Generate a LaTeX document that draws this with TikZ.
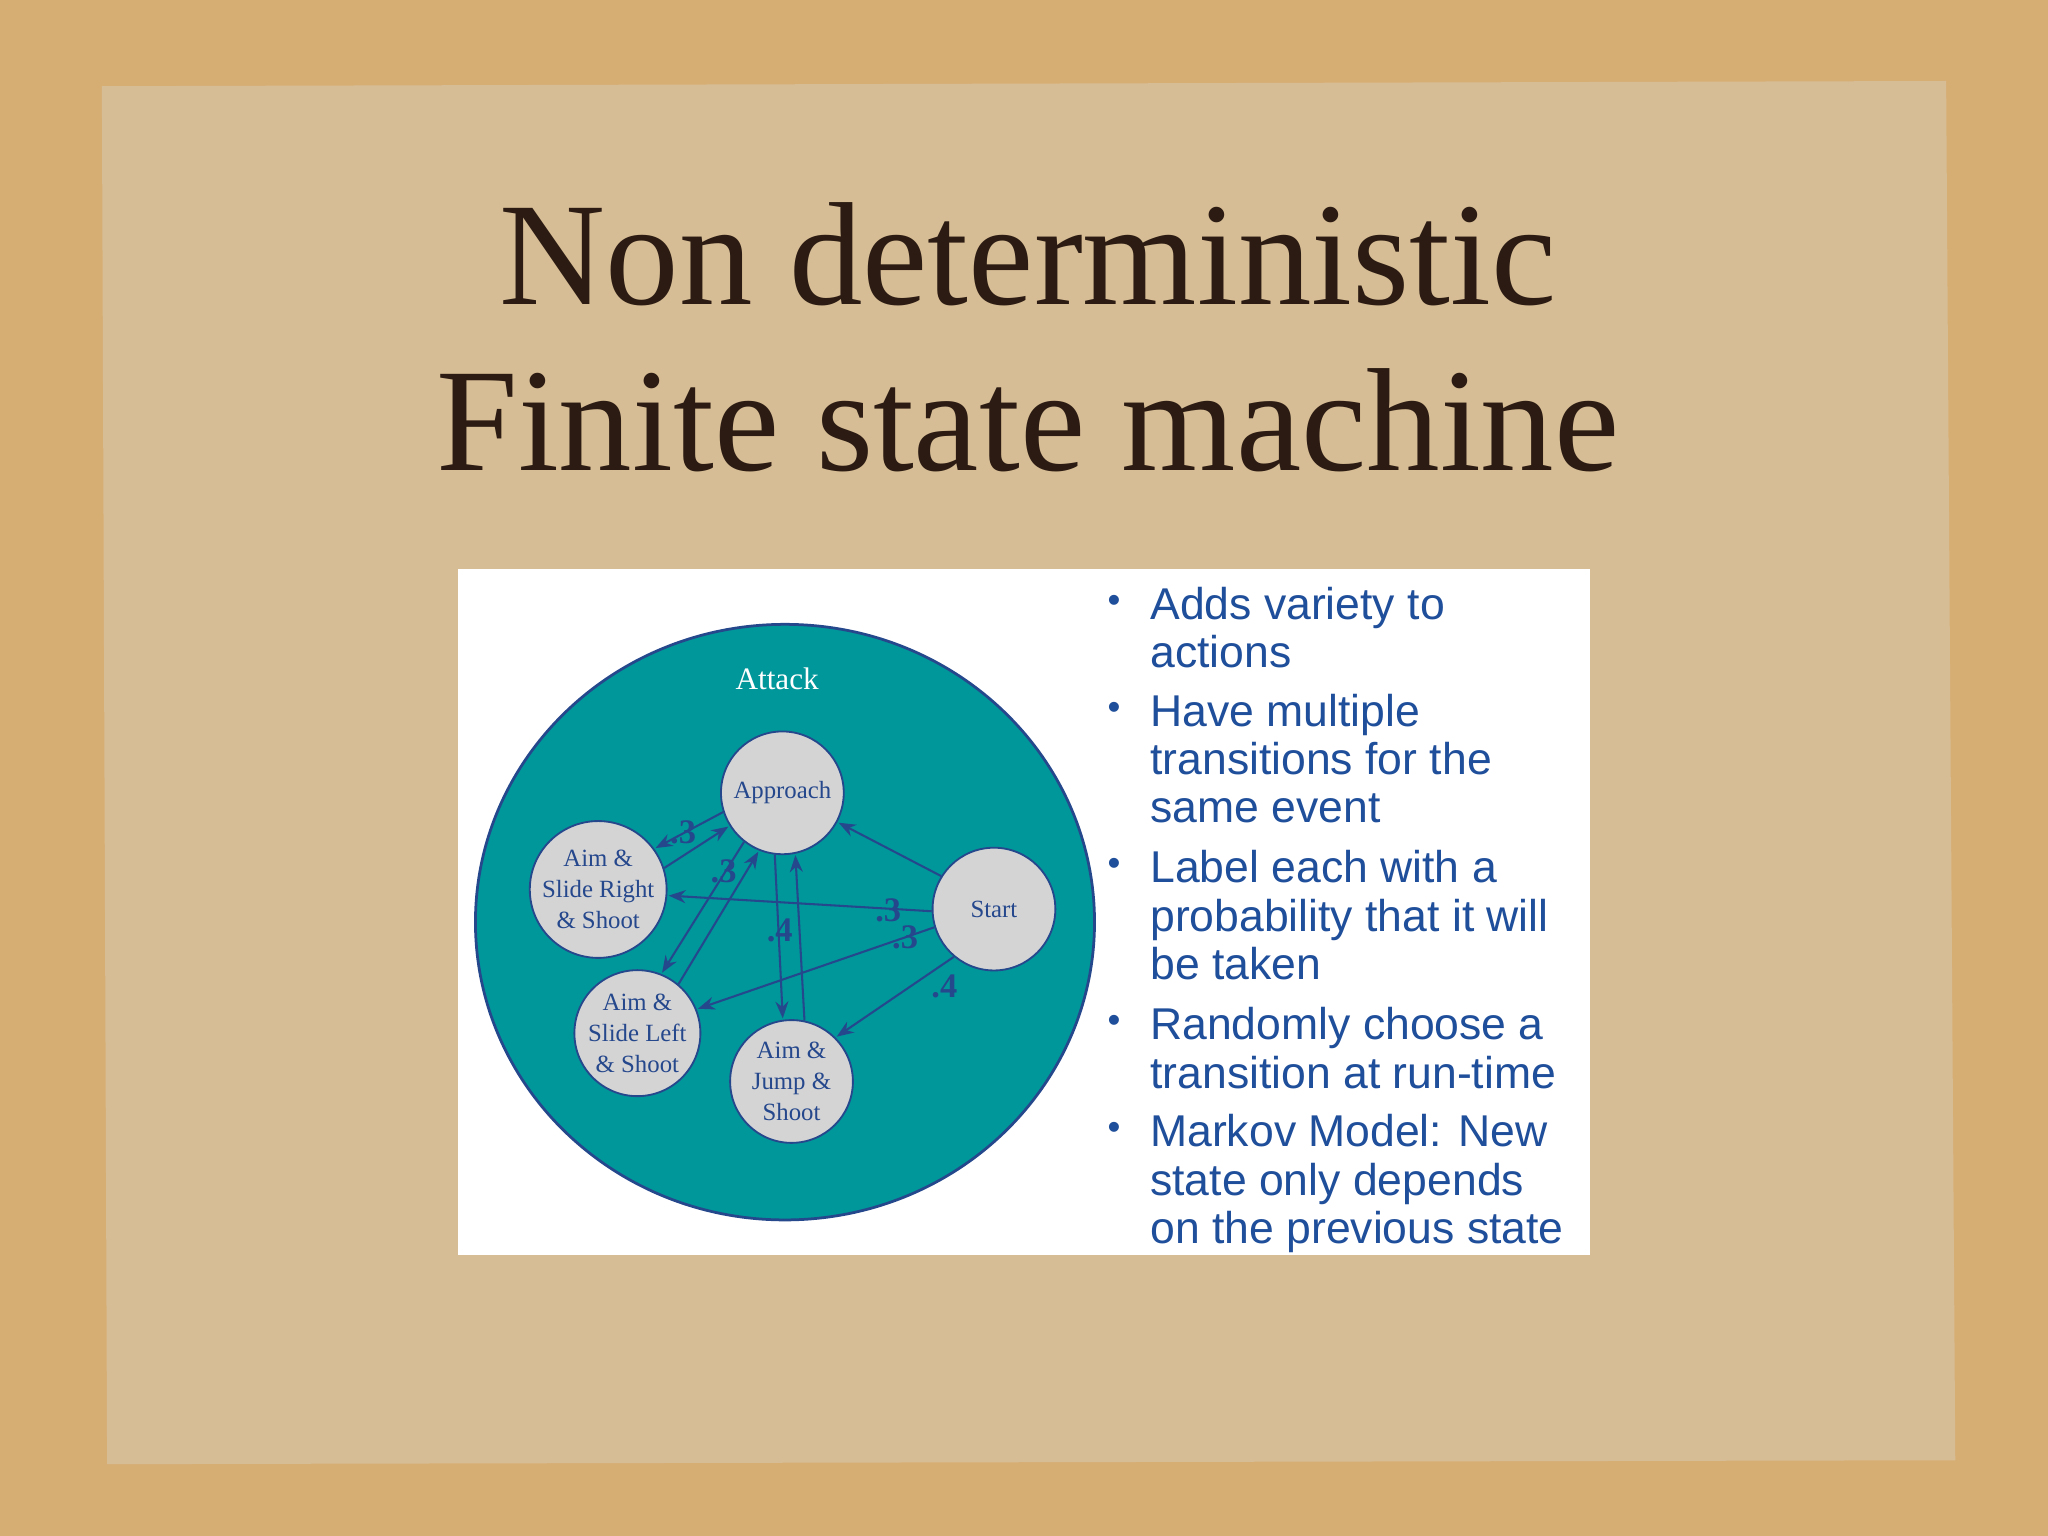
\documentclass[tikz,border=0pt]{standalone}
\usepackage{fontspec}
\setmainfont{Liberation Serif}
\newfontfamily\arialf{Liberation Sans}
\usetikzlibrary{arrows.meta}
\definecolor{sand}{HTML}{D6AE74}
\definecolor{paper}{HTML}{D7BD95}
\definecolor{teal}{HTML}{00979B}
\definecolor{navy}{HTML}{25478C}
\definecolor{bul}{HTML}{1F4E9A}
\definecolor{ink}{HTML}{2B1B12}
\definecolor{gry}{HTML}{D4D4D4}
\tikzset{
  st/.style={circle,fill=gry,draw=navy,line width=0.4pt,minimum size=9.4mm,inner sep=0pt,align=center,text=navy,font=\fontsize{5.4}{6.8}\selectfont},
  tr/.style={draw=navy,line width=0.45pt,-{Stealth[length=1.3mm,width=1mm]},shorten >=0.3pt},
  pl/.style={text=navy,font=\bfseries\fontsize{7.5}{8}\selectfont},
  bl/.style={anchor=base west,text=bul,inner sep=0pt,font=\arialf\fontsize{9.7}{10}\selectfont},
}
\begin{document}
\begin{tikzpicture}[x=0.1mm,y=-0.1mm]
\useasboundingbox (0,0) rectangle (1568,1176);
\fill[sand] (0,0) rectangle (1568,1176);
\fill[paper] (78,66) -- (1490,62) -- (1497,1118) -- (82,1121) -- cycle;
\node[text=ink,font=\fontsize{32}{34}\selectfont] (t1) at (787,195) {Non deterministic};
\node[text=ink,font=\fontsize{32}{34}\selectfont] (t2) at (787,322) {Finite state machine};
\fill[white] (351,436) rectangle (1217,961);
\fill[teal,draw=navy,line width=0.6pt] (601,706) ellipse [x radius=237,y radius=228];
\node[text=white,font=\fontsize{6.8}{7}\selectfont] (att) at (595,520) {Attack};
\node[st] (ap) at (599,607) {Approach};
\node[st] (sr) at (458,681) {Aim \&\\Slide Right\\\& Shoot};
\node[st] (s) at (761,696) {Start};
\node[st] (sl) at (488,791) {Aim \&\\Slide Left\\\& Shoot};
\node[st] (jp) at (606,828) {Aim \&\\Jump \&\\Shoot};
\draw[tr] (ap.198) -- (sr.36);
\draw[tr] (sr.18) -- (ap.212);
\draw[tr] (ap.232) -- (sl.68);
\draw[tr] (sl.50) -- (ap.248);
\draw[tr] (ap.263) -- (jp.98);
\draw[tr] (jp.78) -- (ap.282);
\draw[tr] (s.148) -- (ap.-28);
\draw[tr] (s.182) -- (sr.-5);
\draw[tr] (s.197) -- (sl.22);
\draw[tr] (s.230) -- (jp.45);
\node[pl] (l1) at (523,637) {.3};
\node[pl] (l2) at (554,667) {.3};
\node[pl] (l3) at (597,712) {.4};
\node[pl] (l4) at (680,697) {.3};
\node[pl] (l5) at (693,718) {.3};
\node[pl] (l6) at (723,755) {.4};
\foreach \y in {462,544,664,784,866}{\node[text=bul,font=\arialf\fontsize{8}{9}\selectfont] at (853,\y) {•};}
\node[bl] (b1) at (880,474) {Adds variety to};
\node[bl] (b2) at (880,511) {actions};
\node[bl] (b3) at (880,556) {Have multiple};
\node[bl] (b4) at (880,593) {transitions for the};
\node[bl] (b5) at (880,630) {same event};
\node[bl] (b6) at (880,676) {Label each with a};
\node[bl] (b7) at (880,713) {probability that it will};
\node[bl] (b8) at (880,750) {be taken};
\node[bl] (b9) at (880,796) {Randomly choose a};
\node[bl] (b10) at (880,833) {transition at run-time};
\node[bl] (b11) at (880,878) {Markov Model: New};
\node[bl] (b12) at (880,915) {state only depends};
\node[bl] (b13) at (880,952) {on the previous state};
\end{tikzpicture}
\end{document}
